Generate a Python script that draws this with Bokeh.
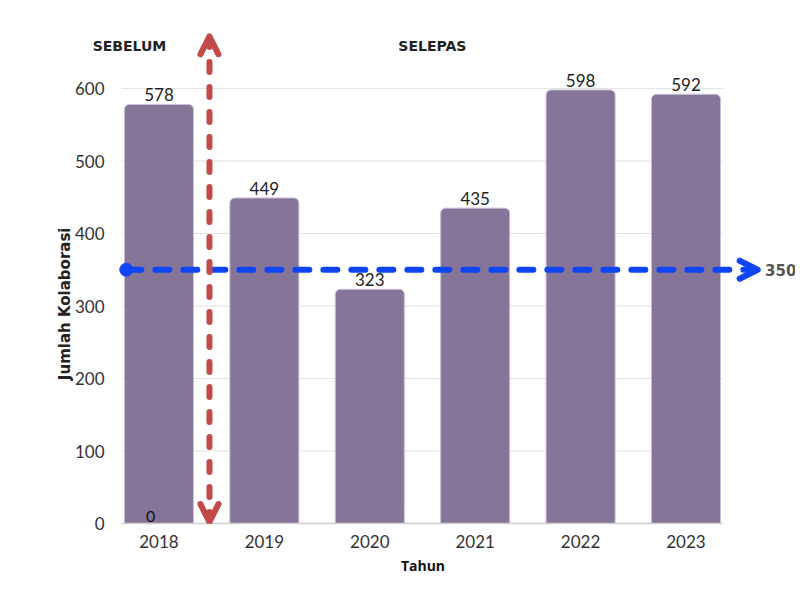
import math
from bokeh.plotting import figure
from bokeh.models import (Range1d, FixedTicker, Arrow, OpenHead, Label, ColumnDataSource)
from bokeh.embed import file_html
from bokeh.resources import INLINE
from bokeh.core.properties import value

years = ["2018", "2019", "2020", "2021", "2022", "2023"]
kolaborasi = [578, 449, 323, 435, 598, 592]
y_ticks = [0, 100, 200, 300, 400, 500, 600]
threshold = 350
section_labels = ["SEBELUM", "SELEPAS"]

FONT = "Lato"
BOLD = "DejaVu Sans"
xs = list(range(len(years)))
x_lo = -0.356
x_hi = len(years) - 0.65

p = figure(width=795, height=592, output_backend="svg", toolbar_location=None,
           x_range=Range1d(-1.029, 6.039), y_range=Range1d(0, 680),
           min_border_left=50, min_border_right=0, min_border_top=30, min_border_bottom=69)
p.outline_line_color = None
p.background_fill_color = "white"
p.border_fill_color = "white"
p.xgrid.visible = False
p.ygrid.visible = False

# gridlines limited to the bar area
grid_src = ColumnDataSource(dict(y=y_ticks[1:]))
p.segment(x0=x_lo, x1=x_hi, y0="y", y1="y", source=grid_src,
          line_color="#e3e3e3", line_width=1)

src = ColumnDataSource(dict(x=xs, top=kolaborasi, lab=[str(v) for v in kolaborasi]))
p.vbar(x="x", top="top", width=0.655, source=src, fill_color="#857599",
       line_color="#c9c0d8", line_width=1, border_radius=[5, 5, 0, 0])

p.text(x="x", y="top", text="lab", source=src, text_align="center", text_baseline="bottom",
       y_offset=-3, text_font=value(FONT), text_font_size="17px", text_color="#222222")

# stray zero label
p.add_layout(Label(x=xs[0] - 0.08, y=0, text="0", text_align="center", y_offset=2,
                   text_font=FONT, text_font_size="16px", text_color="#111111"))

# x axis
p.xaxis.ticker = FixedTicker(ticks=xs)
p.xaxis.major_label_overrides = {i: y for i, y in enumerate(years)}
p.xaxis.bounds = (x_lo, x_hi)
p.xaxis.axis_line_color = "#cfcfcf"
p.xaxis.axis_line_width = 1.5
p.xaxis.major_tick_line_color = None
p.xaxis.minor_tick_line_color = None
p.xaxis.major_label_standoff = 5
p.xaxis.major_label_text_font = FONT
p.xaxis.major_label_text_font_size = "17px"
p.xaxis.major_label_text_color = "#333333"
p.xaxis.axis_label = "Tahun"
p.xaxis.axis_label_text_font = "Open Sans"
p.xaxis.axis_label_text_font_style = "bold"
p.xaxis.axis_label_text_font_size = "14px"
p.xaxis.axis_label_text_color = "#111111"
p.xaxis.axis_label_standoff = 5

# y axis (labels pushed right, next to the bars)
p.yaxis.ticker = FixedTicker(ticks=y_ticks)
p.yaxis.axis_line_color = None
p.yaxis.major_tick_line_color = None
p.yaxis.minor_tick_line_color = None
p.yaxis.major_label_standoff = -60
p.yaxis.major_label_text_font = FONT
p.yaxis.major_label_text_font_size = "17px"
p.yaxis.major_label_text_color = "#333333"

p.add_layout(Label(x=-0.887, y=303, text="Jumlah Kolaborasi", angle=math.pi / 2,
                   text_align="center", text_baseline="middle", text_font=BOLD,
                   text_font_style="bold", text_font_size="15px", text_color="#222222"))

# threshold arrow (blue)
blue = "#0f44f7"
p.add_layout(Arrow(x_start=-0.30, y_start=threshold, x_end=5.68, y_end=threshold,
                   line_color=blue, line_width=6, line_dash="14 14", line_cap="round",
                   end=OpenHead(size=18, line_color=blue, line_width=6,
                                line_cap="round", line_join="round"),
                   start=None))
p.scatter(x=[-0.31], y=[threshold], size=13, color=blue)
p.add_layout(Label(x=5.75, y=threshold, text=str(threshold), text_baseline="middle",
                   text_font=BOLD, text_font_style="bold", text_font_size="15px",
                   text_color="#555555"))

# before / after divider (red)
red = "#c24a4a"
p.add_layout(Arrow(x_start=0.479, y_start=2, x_end=0.479, y_end=672,
                   line_color=red, line_width=6, line_dash="10 15", line_cap="round",
                   end=OpenHead(size=18, line_color=red, line_width=6,
                                line_cap="round", line_join="round"),
                   start=OpenHead(size=18, line_color=red, line_width=6,
                                  line_cap="round", line_join="round")))

p.add_layout(Label(x=-0.28, y=659, text=section_labels[0], text_align="center",
                   text_baseline="middle", text_font=BOLD, text_font_style="bold",
                   text_font_size="14px", text_color="#222222"))
p.add_layout(Label(x=2.594, y=659, text=section_labels[1], text_align="center",
                   text_baseline="middle", text_font=BOLD, text_font_style="bold",
                   text_font_size="14px", text_color="#222222"))

open("out.html", "w").write(file_html(p, INLINE))
